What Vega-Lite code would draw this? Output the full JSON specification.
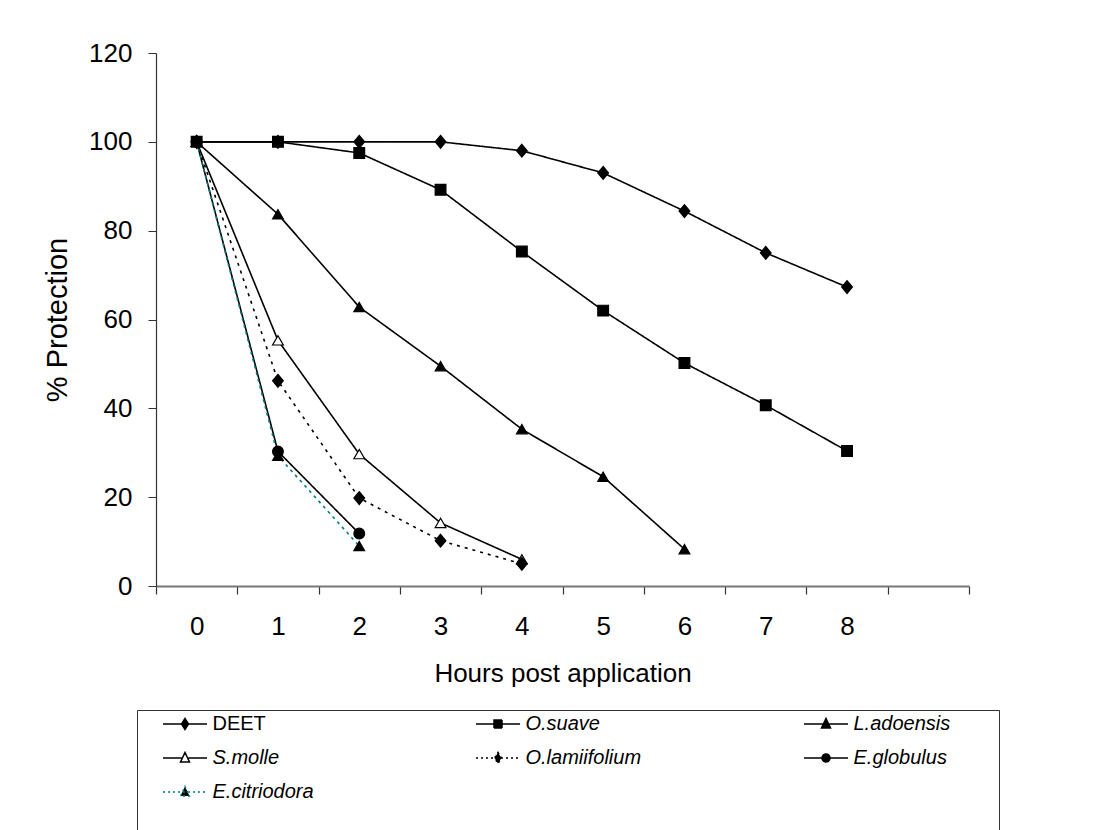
{
  "$schema": "https://vega.github.io/schema/vega-lite/v6.json",
  "width": 813,
  "height": 533,
  "autosize": {"type": "none"},
  "padding": {"left": 156, "top": 53, "right": 136, "bottom": 244},
  "background": "white",
  "config": {
    "font": "Liberation Sans",
    "view": {"stroke": null},
    "axis": {"labelColor": "black", "titleColor": "black", "titleFontWeight": "normal", "grid": false},
    "legend": {
      "orient": "none",
      "legendX": -19,
      "legendY": 657,
      "columns": 3,
      "direction": "horizontal",
      "gridAlign": "each",
      "columnPadding": 139,
      "rowPadding": 13,
      "padding": 3,
      "strokeColor": "#333",
      "symbolSize": 400,
      "symbolStrokeWidth": 1.5,
      "symbolOffset": 34,
      "labelFont": "Liberation Sans",
      "labelFontSize": 20,
      "labelColor": "black",
      "labelOffset": 16.5,
      "labelLimit": 300
    }
  },
  "data": {
    "values": [
      {"series": "DEET", "h": 0, "p": 100},
      {"series": "DEET", "h": 1, "p": 100},
      {"series": "DEET", "h": 2, "p": 100},
      {"series": "DEET", "h": 3, "p": 100},
      {"series": "DEET", "h": 4, "p": 98},
      {"series": "DEET", "h": 5, "p": 93},
      {"series": "DEET", "h": 6, "p": 84.4},
      {"series": "DEET", "h": 7, "p": 75},
      {"series": "DEET", "h": 8, "p": 67.3},
      {"series": "L.adoensis", "h": 0, "p": 100},
      {"series": "L.adoensis", "h": 1, "p": 83.7},
      {"series": "L.adoensis", "h": 2, "p": 62.8},
      {"series": "L.adoensis", "h": 3, "p": 49.5},
      {"series": "L.adoensis", "h": 4, "p": 35.3},
      {"series": "L.adoensis", "h": 5, "p": 24.6},
      {"series": "L.adoensis", "h": 6, "p": 8.3},
      {"series": "S.molle", "h": 0, "p": 100},
      {"series": "S.molle", "h": 1, "p": 55.3},
      {"series": "S.molle", "h": 2, "p": 29.7},
      {"series": "S.molle", "h": 3, "p": 14.2},
      {"series": "S.molle", "h": 4, "p": 6},
      {"series": "O.lamiifolium", "h": 0, "p": 100},
      {"series": "O.lamiifolium", "h": 1, "p": 46.2},
      {"series": "O.lamiifolium", "h": 2, "p": 19.8},
      {"series": "O.lamiifolium", "h": 3, "p": 10.2},
      {"series": "O.lamiifolium", "h": 4, "p": 5},
      {"series": "E.globulus", "h": 0, "p": 100},
      {"series": "E.globulus", "h": 1, "p": 30.3},
      {"series": "E.globulus", "h": 2, "p": 11.8},
      {"series": "E.citriodora", "h": 0, "p": 100},
      {"series": "E.citriodora", "h": 1, "p": 29.3},
      {"series": "E.citriodora", "h": 2, "p": 9},
      {"series": "O.suave", "h": 0, "p": 100},
      {"series": "O.suave", "h": 1, "p": 100},
      {"series": "O.suave", "h": 2, "p": 97.5},
      {"series": "O.suave", "h": 3, "p": 89.2},
      {"series": "O.suave", "h": 4, "p": 75.3},
      {"series": "O.suave", "h": 5, "p": 62},
      {"series": "O.suave", "h": 6, "p": 50.2},
      {"series": "O.suave", "h": 7, "p": 40.7},
      {"series": "O.suave", "h": 8, "p": 30.4}
    ]
  },
  "encoding": {
    "x": {
      "field": "h",
      "type": "quantitative",
      "scale": {"domain": [-0.5, 9.5], "nice": false, "zero": false},
      "axis": {
        "values": [-0.5, 0.5, 1.5, 2.5, 3.5, 4.5, 5.5, 6.5, 7.5, 8.5, 9.5],
        "labelExpr": "datum.value < 8 ? toString(datum.value + 0.5) : ''",
        "labelOffset": 40.65,
        "labelFlush": false,
        "labelOverlap": false,
        "labelBound": false,
        "labelAngle": 0,
        "labelFontSize": 26,
        "labelPadding": 19,
        "tickSize": 8,
        "tickColor": "#333",
        "tickWidth": 1.2,
        "domainColor": "#777",
        "domainWidth": 2,
        "title": "Hours post application",
        "titleFontSize": 26,
        "titlePadding": 21
      }
    },
    "y": {
      "field": "p",
      "type": "quantitative",
      "scale": {"domain": [0, 120], "nice": false},
      "axis": {
        "values": [0, 20, 40, 60, 80, 100, 120],
        "labelFontSize": 26,
        "labelPadding": 16,
        "tickSize": 8,
        "tickColor": "#333",
        "domainColor": "#333",
        "domainWidth": 1.2,
        "title": "% Protection",
        "titleFontSize": 29,
        "titlePadding": 16
      }
    }
  },
  "layer": [
    {
      "mark": {"type": "line", "strokeWidth": 1.6},
      "encoding": {
        "stroke": {
          "field": "series",
          "type": "nominal",
          "scale": {
            "domain": ["DEET", "O.suave", "L.adoensis", "S.molle", "O.lamiifolium", "E.globulus", "E.citriodora"],
            "range": ["black", "black", "black", "black", "black", "black", "#008080"]
          },
          "legend": null
        },
        "strokeDash": {
          "field": "series",
          "type": "nominal",
          "scale": {
            "domain": ["DEET", "O.suave", "L.adoensis", "S.molle", "O.lamiifolium", "E.globulus", "E.citriodora"],
            "range": [[1, 0], [1, 0], [1, 0], [1, 0], [3, 5], [1, 0], [3, 4]]
          },
          "legend": null
        }
      }
    },
    {
      "mark": {"type": "point", "filled": true, "opacity": 1, "stroke": "black", "strokeWidth": 1.2, "size": 115},
      "encoding": {
        "shape": {
          "field": "series",
          "type": "nominal",
          "scale": {
            "domain": ["DEET", "O.suave", "L.adoensis", "S.molle", "O.lamiifolium", "E.globulus", "E.citriodora"],
            "range": ["M0,-1.2L1,0L0,1.2L-1,0Z", "square", "triangle-up", "triangle-up", "M0,-1.2L1,0L0,1.2L-1,0Z", "circle", "triangle-up"]
          },
          "legend": null
        },
        "fill": {
          "field": "series",
          "type": "nominal",
          "scale": {
            "domain": ["DEET", "O.suave", "L.adoensis", "S.molle", "O.lamiifolium", "E.globulus", "E.citriodora"],
            "range": ["black", "black", "black", "white", "black", "black", "black"]
          },
          "legend": null
        }
      }
    },
    {
      "transform": [{"filter": "false"}],
      "mark": {"type": "point", "filled": true, "opacity": 1},
      "encoding": {
        "shape": {
          "field": "series",
          "type": "nominal",
          "scale": {
            "domain": ["DEET", "O.suave", "L.adoensis", "S.molle", "O.lamiifolium", "E.globulus", "E.citriodora"],
            "range": [
              "M-2.2,0H2.2M0,-0.55L0.35,0L0,0.55L-0.35,0Z",
              "M-2.2,0H2.2M-0.4,-0.4H0.4V0.4H-0.4Z",
              "M16.7,0M-2.2,0H2.2M0,-0.55L0.45,0.4H-0.45Z",
              "M-2.2,0H-0.25M0.25,0H2.2M0,-0.55L0.45,0.4H-0.45Z",
              "M-2.2,0H2.2M0,-0.55L0.35,0L0,0.55L-0.35,0Z",
              "M16.7,0M-2.2,0H2.2M-0.4,0A0.4,0.4,0,1,0,0.4,0A0.4,0.4,0,1,0,-0.4,0Z",
              "M0,4.5M-2.2,0H2.2M0,-0.55L0.45,0.4H-0.45Z"
            ]
          },
          "legend": {"title": null, "labelFontStyle": {"expr": "datum.value === 'DEET' ? 'normal' : 'italic'"}}
        },
        "stroke": {
          "field": "series",
          "type": "nominal",
          "scale": {
            "domain": ["DEET", "O.suave", "L.adoensis", "S.molle", "O.lamiifolium", "E.globulus", "E.citriodora"],
            "range": ["black", "black", "black", "black", "black", "black", "#008080"]
          },
          "legend": {"title": null, "labelFontStyle": {"expr": "datum.value === 'DEET' ? 'normal' : 'italic'"}}
        },
        "fill": {
          "field": "series",
          "type": "nominal",
          "scale": {
            "domain": ["DEET", "O.suave", "L.adoensis", "S.molle", "O.lamiifolium", "E.globulus", "E.citriodora"],
            "range": ["black", "black", "black", "white", "black", "black", "black"]
          },
          "legend": {"title": null, "labelFontStyle": {"expr": "datum.value === 'DEET' ? 'normal' : 'italic'"}}
        },
        "strokeDash": {
          "field": "series",
          "type": "nominal",
          "scale": {
            "domain": ["DEET", "O.suave", "L.adoensis", "S.molle", "O.lamiifolium", "E.globulus", "E.citriodora"],
            "range": [[1, 0], [1, 0], [1, 0], [1, 0], [2, 3], [1, 0], [2, 3]]
          },
          "legend": {"title": null, "labelFontStyle": {"expr": "datum.value === 'DEET' ? 'normal' : 'italic'"}}
        }
      }
    }
  ],
  "resolve": {"scale": {"shape": "independent", "stroke": "independent", "fill": "independent", "strokeDash": "independent"}}
}
